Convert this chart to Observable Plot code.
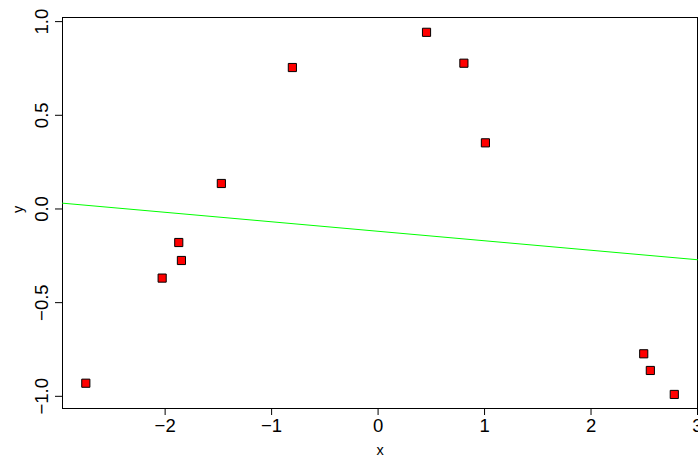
<!DOCTYPE html>
<html><head>
<meta charset="utf-8">
<script src="https://cdn.jsdelivr.net/npm/d3@7"></script>
<script src="https://cdn.jsdelivr.net/npm/@observablehq/plot@0.6"></script>
<style>body{margin:0;background:#fff;} #chart svg{display:block;}</style>
</head><body><div id="chart"></div>
<script>
const xValues = [-2.745, -2.028, -1.872, -1.847, -1.472, -0.805, 0.455, 0.806, 1.008, 2.495, 2.557, 2.782];
const yValues = [-0.930, -0.369, -0.179, -0.275, 0.136, 0.755, 0.943, 0.778, 0.353, -0.773, -0.862, -0.990];
const fitLineX = [-2.964, 3.0];
const fitLineY = [0.031, -0.271];
const xTicks = [-2, -1, 0, 1, 2, 3];
const yTicks = [-1.0, -0.5, 0.0, 0.5, 1.0];

const points = xValues.map((x, i) => ({x, y: yValues[i]}));
const fit = fitLineX.map((x, i) => ({x, y: fitLineY[i]}));
const fmt = d => d.toFixed(1).replace("-", "\u2212");
const fmtX = d => String(d).replace("-", "\u2212");

const chart = Plot.plot({
  width: 698,
  height: 457,
  marginLeft: 62,
  marginTop: 17,
  marginRight: 1,
  marginBottom: 49,
  style: {fontFamily: "'Liberation Sans', Arial, sans-serif", fontSize: "18.5px", color: "#000", background: "#fff"},
  x: {domain: [-2.964, 3.0]},
  y: {domain: [-1.065, 1.022]},
  marks: [
    Plot.frame({stroke: "#000", strokeWidth: 1}),
    Plot.axisX({ticks: xTicks, tickFormat: fmtX, tickSize: 7, tickPadding: 3, label: null, fontSize: 18.5}),
    Plot.axisY({ticks: yTicks, tickFormat: fmt, tickSize: 7, tickPadding: 8, tickRotate: -90, label: null, fontSize: 18.5}),
    Plot.text(["x"], {frameAnchor: "bottom", dy: 46, fontSize: 14.5}),
    Plot.text(["y"], {frameAnchor: "left", dx: -44, rotate: -90, fontSize: 14.5}),
    Plot.line(fit, {x: "x", y: "y", stroke: "#00ff00", strokeWidth: 1}),
    Plot.dot(points, {x: "x", y: "y", symbol: "square", r: 4.6, fill: "#ff0000", stroke: "#000", strokeWidth: 1})
  ]
});
document.getElementById("chart").append(chart);
</script>
</body></html>
